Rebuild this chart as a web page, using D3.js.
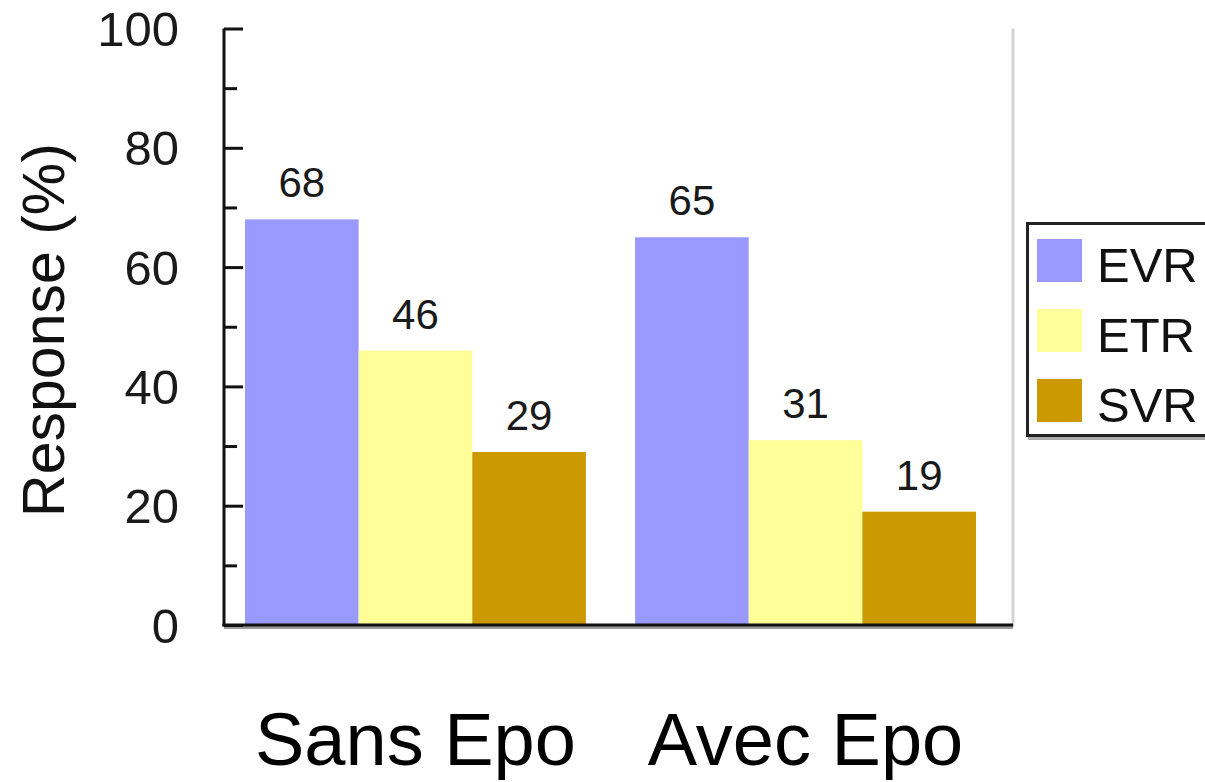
<!DOCTYPE html>
<html>
<head>
<meta charset="utf-8">
<script src="https://cdn.jsdelivr.net/npm/d3@7"></script>
<style>
  html, body { margin: 0; padding: 0; background: #fff; }
  svg { display: block; font-family: "Liberation Sans", Arial, sans-serif; }
</style>
</head>
<body>
<svg id="chart" width="1205" height="782"></svg>
<script>
// Response rates by treatment group
const groups = ["Sans Epo", "Avec Epo"];
const seriesNames = ["EVR", "ETR", "SVR"];
const seriesColors = ["#9999FF", "#FFFF99", "#CC9900"];
const evrValues = [68, 65];
const etrValues = [46, 31];
const svrValues = [29, 19];
const yTickValues = [0, 20, 40, 60, 80, 100];
const yMinorTicks = [10, 30, 50, 70, 90];
const yTitle = "Response (%)";

const seriesValues = [evrValues, etrValues, svrValues];
const rows = groups.map((g, i) => ({
  group: g,
  values: seriesNames.map((s, j) => ({ key: s, value: seriesValues[j][i] }))
}));

const svg = d3.select("#chart");

const plot = { left: 224, right: 1013, top: 28.5, bottom: 625 };

const y = d3.scaleLinear().domain([0, 100]).range([plot.bottom, plot.top]);
const x0 = d3.scaleBand().domain(groups).range([245, 976]).paddingInner(0.126).paddingOuter(0);
const x1 = d3.scaleBand().domain(seriesNames).range([0, x0.bandwidth()]).padding(0);
const color = d3.scaleOrdinal().domain(seriesNames).range(seriesColors);

// light frame line on the right of the plot area
svg.append("line")
  .attr("x1", plot.right).attr("x2", plot.right)
  .attr("y1", plot.top).attr("y2", plot.bottom + 2)
  .attr("stroke", "#d4d4d4").attr("stroke-width", 3);

// bars
const g = svg.append("g");
const groupSel = g.selectAll("g.grp").data(rows).join("g")
  .attr("class", "grp")
  .attr("transform", d => `translate(${x0(d.group)},0)`);

groupSel.selectAll("rect").data(d => d.values).join("rect")
  .attr("x", d => x1(d.key))
  .attr("y", d => y(d.value))
  .attr("width", x1.bandwidth())
  .attr("height", d => y(0) - y(d.value))
  .attr("fill", d => color(d.key));

// value labels
groupSel.selectAll("text").data(d => d.values).join("text")
  .attr("x", d => x1(d.key) + x1.bandwidth() / 2)
  .attr("y", d => y(d.value) - 22)
  .attr("text-anchor", "middle")
  .attr("font-size", 42)
  .attr("fill", "#1a1a1a")
  .text(d => d.value);

// x axis baseline with soft shadow
svg.append("line")
  .attr("x1", plot.left).attr("x2", plot.right)
  .attr("y1", plot.bottom + 2.5).attr("y2", plot.bottom + 2.5)
  .attr("stroke", "#9a9a9a").attr("stroke-width", 3);
svg.append("line")
  .attr("x1", plot.left - 1.5).attr("x2", plot.right)
  .attr("y1", plot.bottom).attr("y2", plot.bottom)
  .attr("stroke", "#111").attr("stroke-width", 3);

// y axis: major ticks drawn inward, labelled
const yAxis = d3.axisRight(y).tickValues(yTickValues).tickSize(19).tickFormat("");
const yAxisG = svg.append("g").attr("transform", `translate(${plot.left},0)`).call(yAxis);
yAxisG.select(".domain").remove();
yAxisG.selectAll(".tick line").attr("stroke", "#111").attr("stroke-width", 3);

const yMinor = d3.axisRight(y).tickValues(yMinorTicks).tickSize(13).tickFormat("");
const yMinorG = svg.append("g").attr("transform", `translate(${plot.left},0)`).call(yMinor);
yMinorG.select(".domain").remove();
yMinorG.selectAll(".tick line").attr("stroke", "#111").attr("stroke-width", 3);

svg.append("line")
  .attr("x1", plot.left).attr("x2", plot.left)
  .attr("y1", plot.top).attr("y2", plot.bottom + 1.5)
  .attr("stroke", "#111").attr("stroke-width", 3);

svg.append("g").selectAll("text").data(yTickValues).join("text")
  .attr("x", 179)
  .attr("y", d => y(d))
  .attr("dy", "0.36em")
  .attr("text-anchor", "end")
  .attr("font-size", 49)
  .attr("fill", "#1a1a1a")
  .text(d => d);

// y axis title
svg.append("text")
  .attr("transform", `translate(64,${330}) rotate(-90)`)
  .attr("text-anchor", "middle")
  .attr("font-size", 59)
  .attr("fill", "#111")
  .text(yTitle);

// category labels
svg.append("g").selectAll("text").data(groups).join("text")
  .attr("x", d => x0(d) + x0.bandwidth() / 2)
  .attr("y", 765)
  .attr("text-anchor", "middle")
  .attr("font-size", 74)
  .attr("fill", "#000")
  .text(d => d);

// legend
const legend = svg.append("g");
legend.append("rect")
  .attr("x", 1029.5).attr("y", 225.5).attr("width", 200).attr("height", 213)
  .attr("fill", "none").attr("stroke", "#aaa").attr("stroke-width", 3);
legend.append("rect")
  .attr("x", 1027.5).attr("y", 223.5).attr("width", 200).attr("height", 212)
  .attr("fill", "#fff").attr("stroke", "#222").attr("stroke-width", 3);

const legendRows = legend.selectAll("g.item").data(seriesNames).join("g")
  .attr("class", "item")
  .attr("transform", (d, i) => `translate(0,${282 + i * 70})`);
legendRows.append("rect")
  .attr("x", 1037).attr("y", -43).attr("width", 45).attr("height", 43)
  .attr("fill", d => color(d));
legendRows.append("text")
  .attr("x", 1097).attr("y", 0)
  .attr("font-size", 49)
  .attr("fill", "#111")
  .text(d => d);
</script>
</body>
</html>
